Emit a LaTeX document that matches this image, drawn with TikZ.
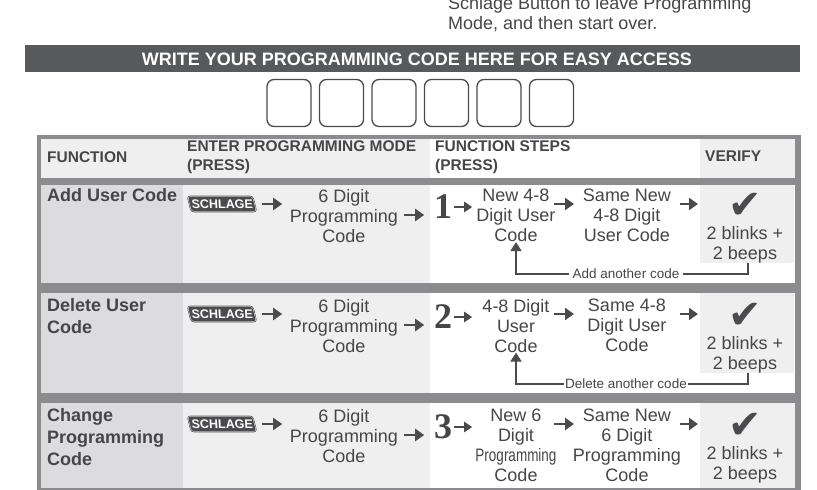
\documentclass[tikz,border=0pt]{standalone}
\usepackage{fontspec}
\setmainfont{Liberation Sans}
\newfontfamily\symfont{DejaVu Sans}
\newfontfamily\digitfont{Liberation Serif}
\usetikzlibrary{arrows.meta, positioning, calc}
\definecolor{framegray}{RGB}{140,140,142}
\definecolor{bargray}{RGB}{88,89,91}
\definecolor{funcgray}{RGB}{220,220,222}
\definecolor{cellgray}{RGB}{239,239,239}
\definecolor{textgray}{RGB}{70,70,72}
\definecolor{arrowgray}{RGB}{75,75,77}
\tikzset{
    arr/.style={-{Triangle[length=9pt,width=12pt]}, line width=2.6pt, draw=arrowgray},
    smallarr/.style={-{Triangle[length=8pt,width=10pt]}, line width=2pt, draw=arrowgray},
    looparr/.style={-{Triangle[length=9pt,width=11pt]}, line width=2pt, draw=arrowgray},
    stepbox/.style={align=center, anchor=north, inner sep=0pt, text=textgray, font=\fontsize{18}{20}\selectfont},
    headtext/.style={align=left, anchor=north west, inner sep=0pt, text=textgray, font=\bfseries\fontsize{15.5}{19}\selectfont},
    functext/.style={align=left, anchor=north west, inner sep=0pt, text=textgray, font=\bfseries\fontsize{18}{22}\selectfont},
    digit/.style={inner sep=0pt, text=textgray, font=\digitfont\bfseries\fontsize{36}{36}\selectfont},
    logo/.style={fill=arrowgray, draw=white, double=arrowgray, rounded corners=3pt, xslant=-0.25, minimum width=66pt, minimum height=16pt, inner sep=0pt, text=white, font=\bfseries\itshape\fontsize{12.5}{12}\selectfont},
    check/.style={inner sep=0pt, text=arrowgray, font=\symfont\fontsize{40}{40}\selectfont},
    codebox/.style={draw=arrowgray, line width=1.3pt, rounded corners=7pt, minimum width=44pt, minimum height=47pt}
}
\begin{document}
\begin{tikzpicture}[x=1pt, y=-1pt]
    \useasboundingbox (0,0) rectangle (817,490);

    % Note at the top, cut off
    \node[anchor=north west, align=left, inner sep=0pt, text=textgray, font=\fontsize{18}{20}\selectfont] (note) at (448,-4) {Schlage Button to leave Programming\\Mode, and then start over.};

    % Title bar
    \fill[bargray] (25,45) rectangle (800,72);
    \node[text=white, font=\bfseries\fontsize{18}{18}\selectfont] (title) at (417,59) {WRITE YOUR PROGRAMMING CODE HERE FOR EASY ACCESS};

    % Code boxes
    \foreach \i in {0,...,5}
        \node[codebox] (code\i) at (289+\i*52.5,103) {};

    % Table background and cells
    \fill[framegray] (37,135) rectangle (801,490);
    \fill[cellgray] (41,139) rectangle (183,178);
    \fill[cellgray] (183,139) rectangle (430,178);
    \fill[white] (430,139) rectangle (700,178);
    \fill[cellgray] (700,139) rectangle (795,178);
    \foreach \top/\bot in {185/283, 293/393, 403/488} {
        \fill[funcgray] (41,\top) rectangle (183,\bot);
        \fill[cellgray] (183,\top) rectangle (430,\bot);
        \fill[white] (430,\top) rectangle (795,\bot);
    }
    \fill[cellgray] (700,185) rectangle (794,263);
    \fill[cellgray] (700,293) rectangle (794,373);
    \fill[cellgray] (700,403) rectangle (795,488);

    % Header row
    \node[headtext] (hfunc) at (47,151) {FUNCTION};
    \node[headtext] (henter) at (187,140) {ENTER PROGRAMMING MODE\\(PRESS)};
    \node[headtext] (hsteps) at (435,140) {FUNCTION STEPS\\(PRESS)};
    \node[headtext] (hverify) at (705,151) {VERIFY};

    % Row 1: Add user code
    \node[functext] (f1) at (47,188) {Add User Code};
    \node[logo] (logo1) at (222,204) {SCHLAGE};
    \node[stepbox] (prog1) at (344,189) {6 Digit\\Programming\\Code};
    \node[digit] (d1) at (443,207) {1};
    \node[stepbox] (new1) at (516,189) {New 4-8\\Digit User\\Code};
    \node[stepbox] (same1) at (627,189) {Same New\\4-8 Digit\\User Code};
    \node[check] (chk1) at (745,206) {✔};
    \node[stepbox] (ver1) at (745,226) {2 blinks +\\2 beeps};
    \coordinate (ret1) at (748,263);
    \node[inner sep=0pt] (lbl1) at (626,274) {\phantom{x}};
    \draw[arr] ([xshift=7]logo1.east) -- ++(20,0);
    \draw[arr] ([xshift=6]prog1.east |- d1) ++(0,8) -- ++(20,0);
    \draw[smallarr] ([xshift=2]d1.east) -- ++(18,0);
    \draw[arr] ([xshift=38]new1.center |- logo1) -- ++(20,0);
    \draw[arr] ([xshift=53]same1.center |- logo1) -- ++(18,0);
    \draw[looparr] (ret1) -- (ret1 |- lbl1) -| (new1.south);
    \node[fill=white, inner xsep=4pt, inner ysep=1pt, text=textgray, font=\fontsize{13.5}{14}\selectfont] at (lbl1) {Add another code};

    % Row 2: Delete user code
    \node[functext] (f2) at (47,298) {Delete User\\Code};
    \node[logo] (logo2) at (222,314) {SCHLAGE};
    \node[stepbox] (prog2) at (344,299) {6 Digit\\Programming\\Code};
    \node[digit] (d2) at (443,317) {2};
    \node[stepbox] (new2) at (516,299) {4-8 Digit\\User\\Code};
    \node[stepbox] (same2) at (627,299) {Same 4-8\\Digit User\\Code};
    \node[check] (chk2) at (745,316) {✔};
    \node[stepbox] (ver2) at (745,336) {2 blinks +\\2 beeps};
    \coordinate (ret2) at (748,373);
    \node[inner sep=0pt] (lbl2) at (626,384) {\phantom{x}};
    \draw[arr] ([xshift=7]logo2.east) -- ++(20,0);
    \draw[arr] ([xshift=6]prog2.east |- d2) ++(0,8) -- ++(20,0);
    \draw[smallarr] ([xshift=2]d2.east) -- ++(18,0);
    \draw[arr] ([xshift=38]new2.center |- logo2) -- ++(20,0);
    \draw[arr] ([xshift=53]same2.center |- logo2) -- ++(18,0);
    \draw[looparr] (ret2) -- (ret2 |- lbl2) -| (new2.south);
    \node[fill=white, inner xsep=1pt, inner ysep=1pt, text=textgray, font=\fontsize{13.5}{14}\selectfont] at (lbl2) {Delete another code};

    % Row 3: Change programming code
    \node[functext] (f3) at (47,408) {Change\\Programming\\Code};
    \node[logo] (logo3) at (222,424) {SCHLAGE};
    \node[stepbox] (prog3) at (344,409) {6 Digit\\Programming\\Code};
    \node[digit] (d3) at (443,427) {3};
    \node[stepbox] (new3) at (516,409) {New 6\\Digit\\\scalebox{0.75}[1]{Programming}\\Code};
    \node[stepbox] (same3) at (627,409) {Same New\\6 Digit\\Programming\\Code};
    \node[check] (chk3) at (745,426) {✔};
    \node[stepbox] (ver3) at (745,446) {2 blinks +\\2 beeps};
    \draw[arr] ([xshift=7]logo3.east) -- ++(20,0);
    \draw[arr] ([xshift=6]prog3.east |- d3) ++(0,8) -- ++(20,0);
    \draw[smallarr] ([xshift=2]d3.east) -- ++(18,0);
    \draw[arr] ([xshift=38]new3.center |- logo3) -- ++(20,0);
    \draw[arr] ([xshift=53]same3.center |- logo3) -- ++(18,0);
\end{tikzpicture}
\end{document}
